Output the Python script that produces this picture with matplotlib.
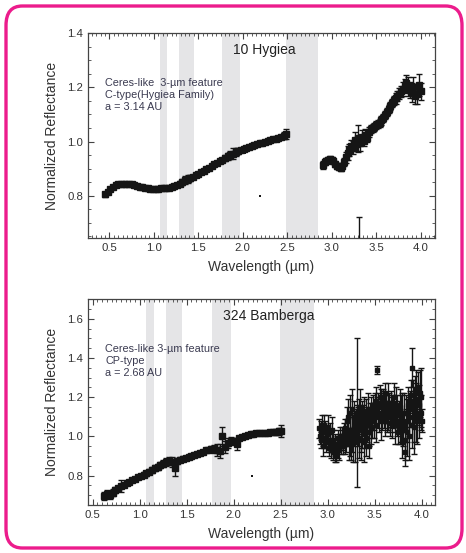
import numpy as np
import matplotlib.pyplot as plt
from matplotlib.patches import FancyBboxPatch
from matplotlib.ticker import MultipleLocator

plt.rcParams['font.family'] = ['Liberation Sans', 'DejaVu Sans']

# telluric gaps (um)
bands = [(1.07, 1.15), (1.28, 1.45), (1.77, 1.97), (2.49, 2.85)]

# 10 Hygiea, short-wavelength part
hyg_x1 = [0.45, 0.48, 0.51, 0.54, 0.57, 0.60, 0.63, 0.66, 0.69, 0.72, 0.75, 0.78, 0.81, 0.84,
          0.87, 0.90, 0.93, 0.96, 0.99, 1.02, 1.05, 1.08, 1.11, 1.14, 1.17, 1.20, 1.23, 1.26,
          1.29, 1.32, 1.35, 1.38, 1.41, 1.44, 1.47, 1.50, 1.53, 1.56, 1.59, 1.62, 1.65, 1.68,
          1.71, 1.74, 1.77, 1.80, 1.83, 1.86, 1.89, 1.92, 1.95, 1.98, 2.01, 2.04, 2.07, 2.10,
          2.13, 2.16, 2.19, 2.22, 2.25, 2.28, 2.31, 2.34, 2.37, 2.40, 2.43, 2.46, 2.49]
hyg_y1 = [0.805, 0.815, 0.826, 0.834, 0.840, 0.843, 0.845, 0.844, 0.844, 0.845, 0.842, 0.838,
          0.836, 0.834, 0.831, 0.829, 0.827, 0.826, 0.825, 0.825, 0.826, 0.827, 0.827, 0.828,
          0.830, 0.833, 0.836, 0.840, 0.845, 0.850, 0.858, 0.862, 0.866, 0.870, 0.875, 0.880,
          0.886, 0.892, 0.898, 0.904, 0.910, 0.916, 0.921, 0.927, 0.933, 0.939, 0.945, 0.950,
          0.956, 0.962, 0.966, 0.970, 0.974, 0.978, 0.981, 0.984, 0.987, 0.990, 0.993, 0.996,
          0.999, 1.002, 1.005, 1.008, 1.011, 1.014, 1.017, 1.022, 1.028]
hyg_e1 = [0.008, 0.008, 0.007, 0.006, 0.005, 0.005, 0.005, 0.005, 0.005, 0.005, 0.005, 0.005,
          0.005, 0.005, 0.005, 0.005, 0.005, 0.005, 0.005, 0.005, 0.005, 0.005, 0.005, 0.005,
          0.005, 0.005, 0.005, 0.006, 0.008, 0.012, 0.015, 0.014, 0.010, 0.006, 0.005, 0.005,
          0.005, 0.005, 0.005, 0.005, 0.005, 0.005, 0.005, 0.006, 0.008, 0.010, 0.012, 0.016,
          0.020, 0.015, 0.010, 0.006, 0.005, 0.005, 0.005, 0.005, 0.005, 0.005, 0.005, 0.005,
          0.005, 0.005, 0.005, 0.005, 0.005, 0.006, 0.008, 0.012, 0.020]

# 10 Hygiea, 3-um region
hyg_x2 = [2.90, 2.92, 2.94, 2.96, 2.98, 3.00, 3.02, 3.04, 3.06, 3.08, 3.10, 3.12, 3.14, 3.16,
          3.18, 3.20, 3.22, 3.24, 3.26, 3.28, 3.30, 3.32, 3.34, 3.36, 3.38, 3.40, 3.42, 3.44,
          3.46, 3.48, 3.50, 3.52, 3.54, 3.56, 3.58, 3.60, 3.62, 3.64, 3.66, 3.68, 3.70, 3.72,
          3.74, 3.76, 3.78, 3.80, 3.82, 3.84, 3.86, 3.88, 3.90, 3.92, 3.94, 3.96, 3.98, 4.00]
hyg_y2 = [0.915, 0.925, 0.930, 0.932, 0.935, 0.933, 0.928, 0.918, 0.910, 0.905, 0.903, 0.910,
          0.925, 0.942, 0.958, 0.970, 0.985, 0.978, 1.005, 0.990, 1.012, 0.995, 1.018, 1.003,
          1.025, 1.015, 1.035, 1.045, 1.050, 1.055, 1.060, 1.065, 1.070, 1.078, 1.088, 1.098,
          1.108, 1.120, 1.132, 1.142, 1.152, 1.160, 1.168, 1.176, 1.185, 1.195, 1.205, 1.215,
          1.205, 1.190, 1.180, 1.200, 1.170, 1.175, 1.210, 1.185]
hyg_e2 = [0.015, 0.012, 0.010, 0.010, 0.010, 0.010, 0.010, 0.010, 0.010, 0.010, 0.010, 0.012,
          0.015, 0.020, 0.025, 0.022, 0.020, 0.025, 0.030, 0.025, 0.050, 0.030, 0.025, 0.020,
          0.020, 0.018, 0.018, 0.015, 0.015, 0.015, 0.015, 0.015, 0.015, 0.015, 0.015, 0.015,
          0.015, 0.015, 0.015, 0.015, 0.018, 0.020, 0.020, 0.020, 0.020, 0.025, 0.025, 0.030,
          0.035, 0.030, 0.035, 0.040, 0.030, 0.035, 0.040, 0.030]

# stray points
hyg_xs = [3.31]
hyg_ys = [0.600]
hyg_es = [0.12]
hyg_dots_x = [2.19, 2.03]
hyg_dots_y = [0.800, 0.959]

# 324 Bamberga, short-wavelength part
bam_x1 = [0.62, 0.65, 0.68, 0.71, 0.74, 0.77, 0.80, 0.83, 0.86, 0.89, 0.92, 0.95, 0.98, 1.01,
          1.04, 1.07, 1.10, 1.13, 1.16, 1.19, 1.22, 1.25, 1.28, 1.31, 1.34, 1.37, 1.40, 1.43,
          1.46, 1.49, 1.52, 1.55, 1.58, 1.61, 1.64, 1.67, 1.70, 1.73, 1.76, 1.79, 1.82, 1.85,
          1.88, 1.91, 1.94, 1.97, 2.00, 2.03, 2.06, 2.09, 2.12, 2.15, 2.18, 2.21, 2.24, 2.27,
          2.30, 2.33, 2.36, 2.39, 2.42, 2.45, 2.48, 2.50]
bam_y1 = [0.695, 0.705, 0.700, 0.712, 0.725, 0.735, 0.745, 0.752, 0.760, 0.768, 0.775, 0.783,
          0.790, 0.797, 0.805, 0.812, 0.820, 0.830, 0.838, 0.845, 0.852, 0.860, 0.868, 0.872,
          0.870, 0.840, 0.875, 0.880, 0.886, 0.890, 0.895, 0.900, 0.905, 0.910, 0.916, 0.922,
          0.928, 0.932, 0.936, 0.935, 0.930, 0.925, 1.000, 0.945, 0.965, 0.975, 0.978, 0.960,
          0.992, 0.998, 1.003, 1.008, 1.012, 1.014, 1.015, 1.016, 1.017, 1.018, 1.019, 1.020,
          1.022, 1.024, 1.025, 1.028]
bam_e1 = [0.020, 0.020, 0.020, 0.018, 0.015, 0.012, 0.030, 0.010, 0.010, 0.010, 0.010, 0.010,
          0.010, 0.010, 0.012, 0.012, 0.012, 0.015, 0.015, 0.015, 0.015, 0.018, 0.020, 0.020,
          0.025, 0.045, 0.015, 0.012, 0.012, 0.012, 0.010, 0.010, 0.010, 0.010, 0.010, 0.010,
          0.010, 0.010, 0.015, 0.020, 0.030, 0.035, 0.050, 0.030, 0.025, 0.020, 0.015, 0.030,
          0.012, 0.010, 0.010, 0.010, 0.010, 0.010, 0.010, 0.010, 0.010, 0.010, 0.010, 0.010,
          0.012, 0.015, 0.020, 0.030]

# 324 Bamberga, 3-um region (two interleaved scans)
bam_x2 = [2.910, 2.925, 2.940, 2.955, 2.970, 2.985, 3.000, 3.015, 3.030, 3.045, 3.060, 3.075,
          3.090, 3.105, 3.120, 3.135, 3.150, 3.165, 3.180, 3.195, 3.210, 3.225, 3.240, 3.255,
          3.270, 3.285, 3.300, 3.315, 3.330, 3.345, 3.360, 3.375, 3.390, 3.405, 3.420, 3.435,
          3.450, 3.465, 3.480, 3.495, 3.510, 3.525, 3.540, 3.555, 3.570, 3.585, 3.600, 3.615,
          3.630, 3.645, 3.660, 3.675, 3.690, 3.705, 3.720, 3.735, 3.750, 3.765, 3.780, 3.795,
          3.810, 3.825, 3.840, 3.855, 3.870, 3.885, 3.900, 3.915, 3.930, 3.945, 3.960, 3.975,
          3.990, 4.000]
bam_y2 = [1.04, 0.98, 1.06, 0.95, 1.02, 0.99, 1.05, 0.94, 0.97, 1.03, 0.92, 0.96,
          0.90, 0.99, 0.93, 0.97, 1.00, 0.95, 1.04, 0.98, 1.08, 0.96, 1.12, 1.02,
          0.99, 1.10, 1.05, 1.12, 0.99, 1.15, 1.03, 1.08, 0.97, 1.12, 1.06, 0.95,
          1.10, 1.04, 1.15, 1.08, 1.18, 1.34, 1.12, 1.20, 1.08, 1.16, 1.13, 1.22,
          1.10, 1.17, 1.07, 1.14, 1.12, 1.20, 1.06, 1.13, 1.02, 1.15, 1.09, 0.97,
          1.12, 0.92, 1.08, 1.16, 1.00, 1.21, 1.35, 1.05, 1.22, 1.12, 1.25, 1.10,
          1.20, 1.08]
bam_e2 = [0.05, 0.04, 0.05, 0.05, 0.06, 0.05, 0.06, 0.04, 0.05, 0.07, 0.04, 0.05,
          0.03, 0.04, 0.05, 0.04, 0.05, 0.04, 0.05, 0.06, 0.07, 0.08, 0.09, 0.10,
          0.12, 0.08, 0.09, 0.38, 0.10, 0.09, 0.11, 0.08, 0.10, 0.07, 0.09, 0.06,
          0.07, 0.08, 0.06, 0.09, 0.07, 0.02, 0.08, 0.06, 0.10, 0.07, 0.09, 0.05,
          0.08, 0.10, 0.07, 0.09, 0.08, 0.07, 0.10, 0.08, 0.06, 0.09, 0.12, 0.08,
          0.10, 0.07, 0.11, 0.09, 0.12, 0.08, 0.10, 0.14, 0.09, 0.15, 0.08, 0.11,
          0.15, 0.06]
bam_x3 = [2.918, 2.933, 2.948, 2.963, 2.978, 2.993, 3.008, 3.023, 3.038, 3.053, 3.068, 3.083,
          3.098, 3.113, 3.128, 3.143, 3.158, 3.173, 3.188, 3.203, 3.218, 3.233, 3.248, 3.263,
          3.278, 3.293, 3.308, 3.323, 3.338, 3.353, 3.368, 3.383, 3.398, 3.413, 3.428, 3.443,
          3.458, 3.473, 3.488, 3.503, 3.518, 3.533, 3.548, 3.563, 3.578, 3.593, 3.608, 3.623,
          3.638, 3.653, 3.668, 3.683, 3.698, 3.713, 3.728, 3.743, 3.758, 3.773, 3.788, 3.803,
          3.818, 3.833, 3.848, 3.863, 3.878, 3.893, 3.908, 3.923, 3.938, 3.953, 3.968, 3.983,
          3.995]
bam_y3 = [1.00, 1.03, 0.99, 1.06, 0.97, 1.01, 0.98, 1.02, 0.93, 0.98, 0.95, 0.92,
          0.96, 0.94, 1.00, 0.95, 0.98, 1.01, 0.96, 1.02, 1.10, 1.00, 0.96, 1.14,
          1.04, 0.98, 1.08, 1.05, 1.10, 0.98, 1.06, 1.12, 1.04, 0.99, 1.14, 1.02,
          1.12, 1.08, 1.10, 1.14, 1.06, 1.16, 1.10, 1.17, 1.12, 1.18, 1.08, 1.14,
          1.12, 1.16, 1.10, 1.08, 1.14, 1.10, 1.16, 1.08, 1.11, 1.05, 1.12, 1.04,
          0.98, 1.12, 1.02, 1.10, 1.14, 1.06, 1.18, 1.10, 1.24, 1.08, 1.16, 1.22,
          1.12]
bam_e3 = [0.04, 0.05, 0.04, 0.05, 0.05, 0.05, 0.04, 0.05, 0.04, 0.05, 0.04, 0.05,
          0.04, 0.05, 0.05, 0.04, 0.05, 0.06, 0.05, 0.07, 0.09, 0.10, 0.08, 0.10,
          0.09, 0.11, 0.08, 0.10, 0.09, 0.10, 0.12, 0.08, 0.10, 0.09, 0.08, 0.07,
          0.08, 0.09, 0.07, 0.08, 0.09, 0.06, 0.08, 0.07, 0.09, 0.06, 0.08, 0.07,
          0.09, 0.06, 0.08, 0.09, 0.07, 0.08, 0.09, 0.08, 0.07, 0.09, 0.10, 0.09,
          0.10, 0.09, 0.12, 0.10, 0.09, 0.12, 0.11, 0.13, 0.10, 0.12, 0.10, 0.12,
          0.09]

bam_dots_x = [2.19]
bam_dots_y = [0.800]

panels = [
    dict(name='10 Hygiea', name_x=0.418,
         lines=['Ceres-like  3-\u00b5m feature', 'C-type(Hygiea Family)', 'a = 3.14 AU'],
         segs=[(hyg_x1, hyg_y1, hyg_e1, 4.2), (hyg_x2, hyg_y2, hyg_e2, 4.2),
               (hyg_xs, hyg_ys, hyg_es, 1.0)],
         dots=(hyg_dots_x, hyg_dots_y),
         xlim=(0.26, 4.16), ylim=(0.645, 1.4), yticks=[0.8, 1.0, 1.2, 1.4],
         rect=[0.189, 0.570, 0.744, 0.370]),
    dict(name='324 Bamberga', name_x=0.39,
         lines=['Ceres-like 3-\u00b5m feature', 'CP-type', 'a = 2.68 AU'],
         segs=[(bam_x1, bam_y1, bam_e1, 4.2), (bam_x2, bam_y2, bam_e2, 3.2),
               (bam_x3, bam_y3, bam_e3, 3.2)],
         dots=(bam_dots_x, bam_dots_y),
         xlim=(0.45, 4.14), ylim=(0.65, 1.7), yticks=[0.8, 1.0, 1.2, 1.4, 1.6],
         rect=[0.189, 0.087, 0.744, 0.372]),
]

fig = plt.figure(figsize=(4.66, 5.53), dpi=100)

# pink frame around both panels
frame = FancyBboxPatch((6 / 466, 5 / 553), 456 / 466, 542 / 553,
                       boxstyle='round,pad=0,rounding_size=0.035',
                       transform=fig.transFigure, fill=False,
                       edgecolor='#ec1c8c', linewidth=2.4)
fig.patches.append(frame)

ink = '#151515'
txt = '#3a3a50'
for p in panels:
    ax = fig.add_axes(p['rect'])
    for lo, hi in bands:
        ax.axvspan(lo, hi, color='#e5e5e7', lw=0, zorder=0)
    for xs, ys, es, ms in p['segs']:
        ax.errorbar(xs, ys, yerr=es, fmt='s', ms=ms, color=ink, mec=ink,
                    ecolor=ink, elinewidth=1.0, capsize=2.0, capthick=1.0, zorder=3)
    ax.plot(*p['dots'], 's', ms=1.6, color=ink, mew=0, zorder=3)
    ax.set_xlim(*p['xlim'])
    ax.set_ylim(*p['ylim'])
    ax.set_xticks([0.5, 1.0, 1.5, 2.0, 2.5, 3.0, 3.5, 4.0])
    ax.set_yticks(p['yticks'])
    ax.xaxis.set_minor_locator(MultipleLocator(0.05))
    ax.yaxis.set_minor_locator(MultipleLocator(0.05))
    ax.tick_params(which='both', direction='in', top=True, right=True,
                   colors='#444444', labelcolor='#333333', labelsize=8.2)
    ax.tick_params(which='major', length=4, width=0.8)
    ax.tick_params(which='minor', length=2, width=0.6)
    for s in ax.spines.values():
        s.set_color('#444444')
        s.set_linewidth(0.9)
    ax.set_xlabel('Wavelength (\u00b5m)', fontsize=10, color='#333333', labelpad=5)
    ax.set_ylabel('Normalized Reflectance', fontsize=10, color='#333333', labelpad=6)
    ax.text(p['name_x'], 0.92, p['name'], transform=ax.transAxes, fontsize=10,
            color='#222222', ha='left', va='center')
    ax.text(0.05, 0.78, '\n'.join(p['lines']), transform=ax.transAxes, fontsize=7.8,
            color=txt, ha='left', va='top', linespacing=1.25)

fig.savefig('out.png', dpi=100)
